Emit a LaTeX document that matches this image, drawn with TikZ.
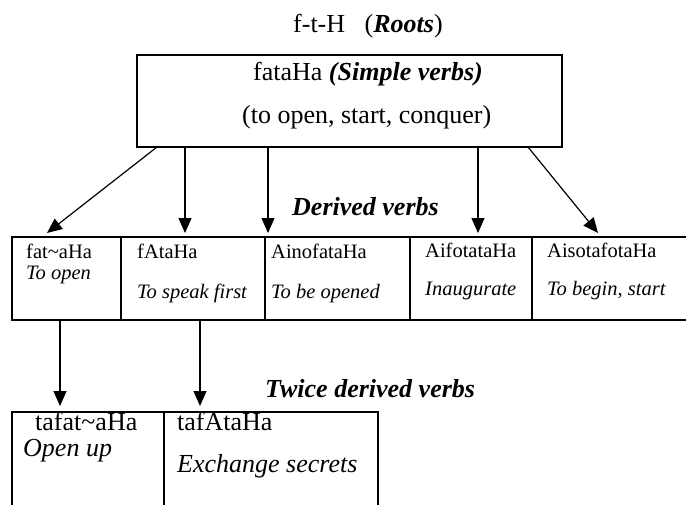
\documentclass[tikz,border=0pt]{standalone}
\usepackage{fontspec}
\setmainfont{Liberation Serif}
\usetikzlibrary{positioning, arrows.meta}

\tikzset{
    cell/.style={draw, line width=1.2pt, inner sep=0pt, outer sep=0pt, minimum height=83pt, anchor=north west},
    word/.style={anchor=base west, inner sep=0pt},
    small/.style={font=\fontsize{20.5}{24}\selectfont},
    head/.style={word, font=\fontsize{26}{31}\selectfont\bfseries\itshape},
    arr/.style={-{Triangle[length=15pt,width=13pt]}, line width=1.2pt},
}

\begin{document}
\begin{tikzpicture}[x=1pt, y=-1pt, font=\fontsize{26}{31}\selectfont]
    \useasboundingbox (0,0) rectangle (686,504);
    \clip (0,0) rectangle (686,504);
    % roots and simple verb
    \node[word] (root) at (293,32) {f-t-H\ \ \ (\textbf{\textit{Roots}})};
    \node[cell, minimum width=425pt, minimum height=92pt] (top) at (137,55) {};
    \node[word] (simple) at (253,80) {fataHa \textbf{\textit{(Simple verbs)}}};
    \node[word] (mean) at (242,123) {(to open, start, conquer)};
    % derived verbs
    \node[head] (derived) at (292,215) {Derived verbs};
    \node[cell, minimum width=109pt] (d1) at (12,237) {};
    \node[cell, minimum width=144pt, right=0pt of d1] (d2) {};
    \node[cell, minimum width=145pt, right=0pt of d2] (d3) {};
    \node[cell, minimum width=122pt, right=0pt of d3] (d4) {};
    \node[cell, minimum width=170pt, right=0pt of d4] (d5) {};
    \node[word, small] (w1) at (26,258) {fat\textasciitilde aHa};
    \node[word, small] (g1) at (26,279) {\itshape To open};
    \node[word, small] (w2) at (137,258) {fAtaHa};
    \node[word, small] (g2) at (137,298) {\itshape To speak first};
    \node[word, small] (w3) at (271,258) {AinofataHa};
    \node[word, small] (g3) at (271,298) {\itshape To be opened};
    \node[word, small] (w4) at (425,257) {AifotataHa};
    \node[word, small] (g4) at (425,295) {\itshape Inaugurate};
    \node[word, small] (w5) at (547,257) {AisotafotaHa};
    \node[word, small] (g5) at (547,295) {\itshape To begin, start};
    \draw[arr] ([xshift=20pt]top.south west) -- ([xshift=35pt,yshift=4pt]d1.north west);
    \draw[arr] ([xshift=48pt]top.south west) -- ([xshift=64pt,yshift=4pt]d2.north west);
    \draw[arr] ([xshift=131pt]top.south west) -- ([xshift=3pt,yshift=4pt]d3.north west);
    \draw[arr] ([xshift=341pt]top.south west) -- ([xshift=68pt,yshift=4pt]d4.north west);
    \draw[arr] ([xshift=391pt]top.south west) -- ([xshift=66pt,yshift=4pt]d5.north west);
    % twice derived verbs
    \node[head] (twice) at (265,397) {Twice derived verbs};
    \node[cell, minimum width=152pt, minimum height=100pt] (t1) at (12,412) {};
    \node[cell, minimum width=214pt, minimum height=100pt, right=0pt of t1] (t2) {};
    \node[word] (w6) at (35,430) {tafat\textasciitilde aHa};
    \node[word] (g6) at (23,456) {\itshape Open up};
    \node[word] (w7) at (177,430) {tafAtaHa};
    \node[word] (g7) at (177,472) {\itshape Exchange secrets};
    \draw[arr] ([xshift=48pt]d1.south west) -- ([xshift=48pt,yshift=6pt]t1.north west);
    \draw[arr] ([xshift=79pt]d2.south west) -- ([xshift=36pt,yshift=6pt]t2.north west);
\end{tikzpicture}
\end{document}
